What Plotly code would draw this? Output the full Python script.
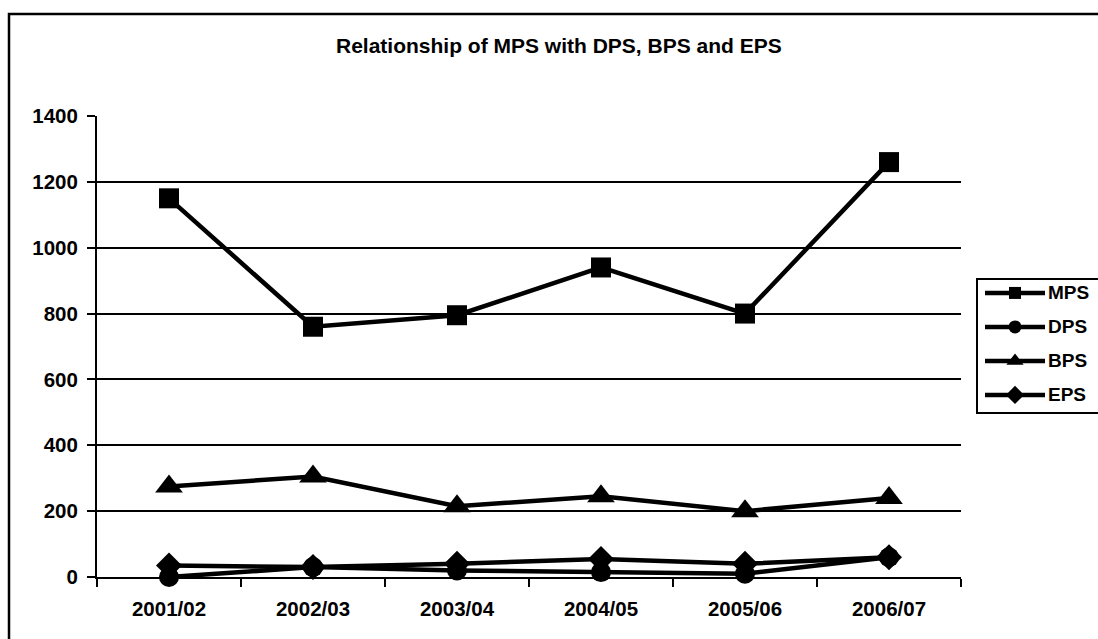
import plotly.graph_objects as go

# Financial years on the category axis
years = ["2001/02", "2002/03", "2003/04", "2004/05", "2005/06", "2006/07"]

# Per-share figures for each year
mps = [1150, 760, 795, 940, 800, 1260]
dps = [0, 30, 20, 15, 10, 60]
bps = [275, 305, 215, 245, 200, 240]
eps = [35, 30, 40, 55, 40, 60]

series_names = ["MPS", "DPS", "BPS", "EPS"]
series_values = [mps, dps, bps, eps]
symbols = ["square", "circle", "triangle-up", "diamond"]
plot_sizes = [20, 20, 24, 20]
key_sizes = [12, 13, 15, 14]

y_ticks = [0, 200, 400, 600, 800, 1000, 1200, 1400]

W, H = 1098, 639
ML, MR, MT, MB = 97, 0, 116, 62
PW = W - ML - MR          # paper width in px
PH = H - MT - MB          # paper height in px


def px_x(p):
    return (p - ML) / PW


def px_y(p):
    return (H - MB - p) / PH


FONT = "Liberation Sans, Arial, sans-serif"

fig = go.Figure()

for name, vals, sym, sz in zip(series_names, series_values, symbols, plot_sizes):
    fig.add_trace(go.Scatter(
        x=years, y=vals, name=name, mode="lines+markers",
        line=dict(color="black", width=4.5),
        marker=dict(symbol=sym, size=sz, color="black"),
        cliponaxis=False, showlegend=False,
    ))

# Hand-built key on its own small axes, to the right of the plot
for i, (name, sym, ks) in enumerate(zip(series_names, symbols, key_sizes)):
    fig.add_trace(go.Scatter(
        x=[0, 1], y=[i, i], mode="lines",
        line=dict(color="black", width=4.5),
        xaxis="x2", yaxis="y2", cliponaxis=False, showlegend=False,
        hoverinfo="skip",
    ))
    fig.add_trace(go.Scatter(
        x=[0.5], y=[i], mode="markers",
        marker=dict(symbol=sym, size=ks, color="black"),
        xaxis="x2", yaxis="y2", cliponaxis=False, showlegend=False,
        hoverinfo="skip",
    ))
    fig.add_annotation(
        x=px_x(1046), y=i, xref="paper", yref="y2",
        text=name, showarrow=False, xanchor="left", yanchor="middle",
        font=dict(family=FONT, size=19, color="black", weight="bold"),
    )

fig.update_layout(
    width=W, height=H,
    margin=dict(l=ML, r=MR, t=MT, b=MB, autoexpand=False),
    paper_bgcolor="white", plot_bgcolor="white",
    font=dict(family=FONT, color="black"),
    xaxis=dict(
        type="category", domain=[0, px_x(961)], range=[-0.5, 5.5],
        tickson="boundaries", ticks="outside", ticklen=8, tickwidth=2,
        tickcolor="black", showgrid=False, showline=True, linecolor="black",
        linewidth=2, tickfont=dict(family=FONT, size=20.5, weight="bold"),
        ticklabelstandoff=12, automargin=False, fixedrange=True,
    ),
    yaxis=dict(
        range=[0, 1400], tickvals=y_ticks, ticks="outside", ticklen=8,
        tickwidth=2, tickcolor="black", showgrid=True, gridcolor="black",
        gridwidth=2, showline=True, linecolor="black", linewidth=2,
        zeroline=False, tickfont=dict(family=FONT, size=20.5, weight="bold"),
        ticklabelstandoff=5, automargin=False, fixedrange=True,
    ),
    xaxis2=dict(domain=[px_x(985), px_x(1045)], range=[0, 1], anchor="y2",
                visible=False, fixedrange=True),
    yaxis2=dict(domain=[px_y(413), px_y(279)], range=[3.53, -0.41],
                anchor="x2", visible=False, fixedrange=True),
    showlegend=False,
)

# Chart title
fig.add_annotation(
    x=px_x(559), y=px_y(45), xref="paper", yref="paper",
    text="Relationship of MPS with DPS, BPS and EPS", showarrow=False,
    xanchor="center", yanchor="middle",
    font=dict(family=FONT, size=21, color="black", weight="bold"),
)

# Outer chart frame and key box
fig.add_shape(type="rect", xref="paper", yref="paper",
              x0=px_x(9), x1=px_x(1110), y0=px_y(650), y1=px_y(14),
              line=dict(color="black", width=2.5), layer="above")
fig.add_shape(type="rect", xref="paper", yref="paper",
              x0=px_x(977), x1=px_x(1110), y0=px_y(413), y1=px_y(279),
              line=dict(color="black", width=2), layer="above")

fig.write_html("out.html")
